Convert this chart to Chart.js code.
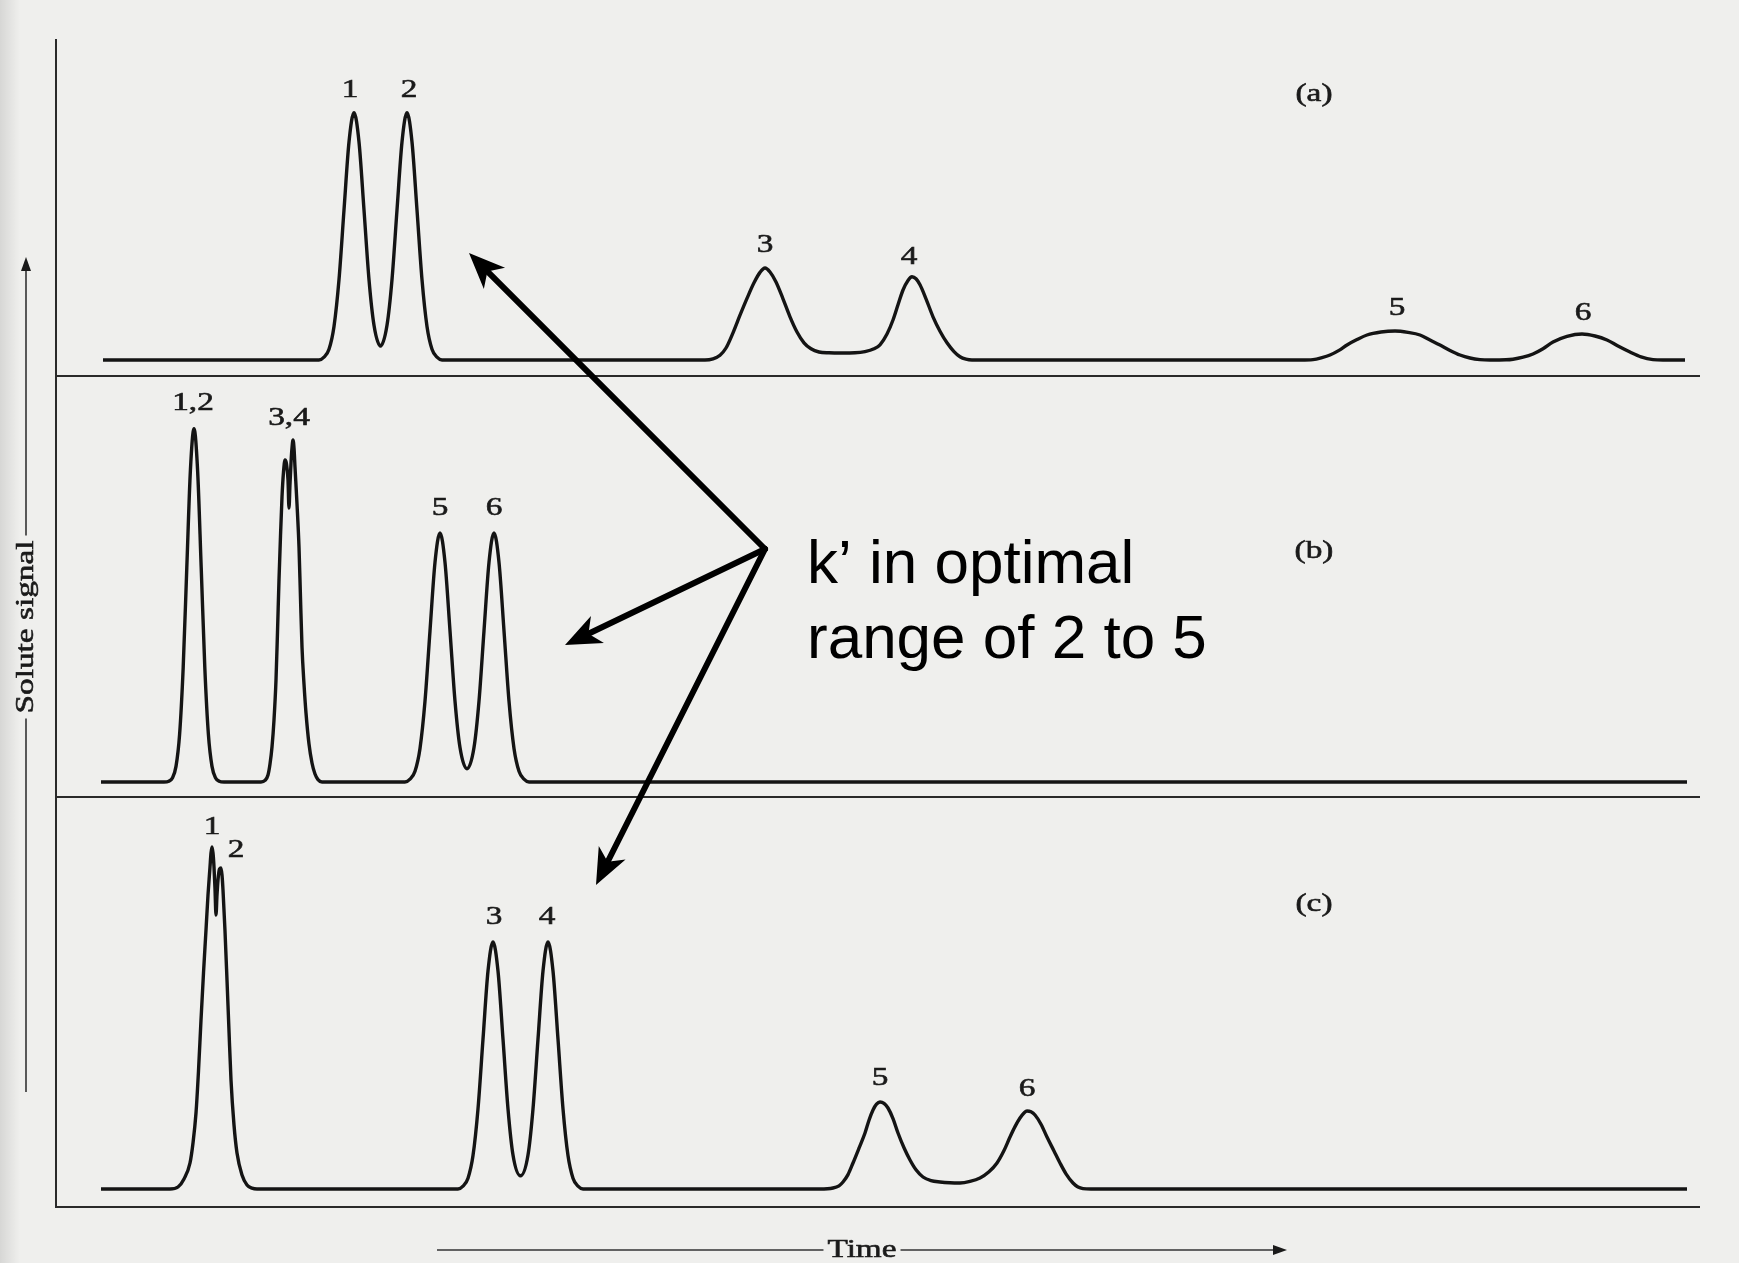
<!doctype html>
<html>

<head>
    <meta charset="utf-8">
    <title>Chromatograms - k' range</title>
    <script src="https://cdn.jsdelivr.net/npm/chart.js"></script>
    <style>
        html, body { margin: 0; padding: 0; background: #efefed; overflow: hidden; }
        canvas { display: block; }
    </style>
</head>

<body>
    <canvas id="chromatogram" width="1739" height="1263"></canvas>

    <script>
        // retention time (arbitrary units) and detector signal
        const timeA = [4.7,
            26.3, 26.8, 27.3, 27.8, 28.3, 28.8, 29.3, 29.8, 30.3, 30.8, 31.3, 31.8, 32.45, 33.1, 33.6, 34.1, 34.6, 35.1, 35.6, 36.1, 36.6, 37.1, 37.6, 38.1, 38.6,
            62.4, 64.9, 65.7, 66.4, 67.0, 67.7, 68.4, 69.1, 69.8, 70.4, 70.9, 71.4, 72.0, 72.7, 73.4, 74.1, 74.8, 75.5, 76.3, 77.3, 78.6, 79.9, 80.9,
            81.8, 82.4, 83.1, 83.7, 84.2, 84.7, 85.2, 85.6, 86.0, 86.4, 87.0, 87.7, 88.4, 89.1, 89.8, 90.4, 91.0, 91.6,
            124.5, 125.7, 126.6, 127.4, 128.3, 129.1, 130.1, 131.1, 132.5, 133.9, 135.2, 136.4, 137.4, 138.4, 139.4, 140.4, 141.4, 142.4, 143.4,
            145.0, 145.7, 146.7, 147.7, 148.7, 149.7, 151.1, 152.6, 153.9, 155.1, 156.2, 157.4, 158.5, 159.7, 160.7, 162.9]
        const signalA = [0,
            0, 0.7, 2.7, 8.4, 20.1, 37.5, 54.5, 61.8, 54.5, 37.5, 20.1, 8.7, 3.5, 8.7, 20.1, 37.5, 54.5, 61.8, 54.5, 37.5, 20.1, 8.4, 2.7, 0.7, 0,
            0, 0, 0.3, 1.2, 3.0, 6.8, 11.2, 15.4, 19.3, 21.9, 23, 22.0, 19.5, 15.3, 10.8, 7.0, 4.3, 2.8, 2.0, 1.8, 1.75, 1.8, 2.1,
            2.8, 3.8, 6.5, 10, 13.8, 17.5, 19.9, 20.8, 20.3, 18.8, 15.3, 10.8, 7.2, 4.3, 2.1, 0.8, 0.2, 0,
            0, 0.1, 0.6, 1.25, 2.4, 3.75, 5.1, 6.25, 7.0, 7.25, 6.9, 6.25, 5.0, 3.75, 2.4, 1.25, 0.5, 0.1, 0,
            0.05, 0.2, 0.7, 1.5, 2.8, 4.5, 5.9, 6.5, 6.0, 5.0, 3.5, 2.0, 0.8, 0.1, 0, 0]

        const timeB = [4.5,
            10.8, 11.28, 11.64, 12.0, 12.36, 12.72, 13.08, 13.44, 13.8, 14.16, 14.52, 14.88, 15.24, 15.6, 15.96, 16.32, 16.8,
            20.5, 20.9, 21.2, 21.4, 21.6, 21.8, 22.0, 22.15, 22.3, 22.45, 22.6, 22.75, 22.9, 23.05, 23.2, 23.3, 23.4, 23.5, 23.6, 23.7, 23.8, 23.9,
            24.1, 24.3, 24.45, 24.6, 24.8, 25.0, 25.3, 25.6, 25.9, 26.2, 26.6,
            34.9, 35.4, 35.9, 36.4, 36.9, 37.4, 37.9, 38.4, 38.9, 39.4, 39.9, 40.4, 41.1, 41.8, 42.3, 42.8, 43.3, 43.8, 44.3, 44.8, 45.3, 45.8, 46.3, 46.8, 47.3,
            163.1]
        const signalB = [0,
            0, 0.2, 1.0, 3.9, 11.9, 28.7, 53.6, 77.9, 88.3, 77.9, 53.6, 28.7, 11.9, 3.9, 1.0, 0.2, 0,
            0, 0.4, 1.75, 4.5, 8.75, 15.5, 25.5, 37.5, 50.5, 61.5, 71.25, 77.5, 80.5, 79.5, 75.5, 68.5, 74.5, 79.75, 83.5, 85.5, 83.5, 78.75,
            69.5, 58.75, 46, 33.75, 24.5, 17.25, 9.5, 4.75, 2.0, 0.6, 0,
            0, 0.7, 2.7, 8.4, 20.2, 37.8, 54.9, 62.25, 54.9, 37.8, 20.2, 8.6, 3.3, 8.6, 20.2, 37.8, 54.9, 62.25, 54.9, 37.8, 20.2, 8.4, 2.7, 0.7, 0,
            0]

        const timeC = [4.5,
            11.4, 12.2, 12.8, 13.4, 13.7, 14.0, 14.25, 14.5, 14.75, 15.0, 15.2, 15.4, 15.5, 15.6, 15.7, 15.8, 15.9, 16.0, 16.1, 16.2, 16.35, 16.5, 16.6, 16.7,
            16.9, 17.1, 17.3, 17.5, 17.8, 18.1, 18.6, 19.1, 19.6, 20.1,
            40.2, 40.7, 41.2, 41.7, 42.2, 42.7, 43.2, 43.7, 44.2, 44.7, 45.2, 45.7, 46.45, 47.2, 47.7, 48.2, 48.7, 49.2, 49.7, 50.2, 50.7, 51.2, 51.7, 52.2, 52.7,
            76.4, 77.7, 78.3, 78.7, 79.2, 79.7, 80.3, 80.9, 81.3, 81.7, 82.05, 82.4, 82.8, 83.2, 83.7, 84.2, 84.8, 85.4, 86.0, 86.7, 87.5, 88.4, 89.4, 90.4,
            91.4, 92.4, 93.3, 94.1, 94.8, 95.4, 95.9, 96.4, 96.8, 97.1, 97.5, 97.9, 98.5, 99.1, 99.8, 100.4, 101.0, 101.7, 102.2, 102.7, 103.5,
            163.1]
        const signalC = [0,
            0, 0.5, 2.5, 6.5, 11.5, 19, 29.5, 42.25, 54, 64.75, 73.5, 80.5, 84, 85.5, 84, 80.5, 75, 68.5, 73.5, 77.25, 80, 80.25, 78.5, 74.75,
            64.5, 52.25, 39.5, 27.25, 16, 9, 3.5, 1, 0.2, 0,
            0, 0.7, 2.7, 8.35, 20.05, 37.45, 54.5, 61.75, 54.5, 37.45, 20.05, 8.5, 3.3, 8.5, 20.05, 37.45, 54.5, 61.75, 54.5, 37.45, 20.05, 8.35, 2.7, 0.7, 0,
            0, 0.25, 0.8, 1.75, 3.6, 6.5, 10.2, 14, 17.2, 19.75, 21.2, 21.75, 21.4, 20.25, 17.6, 14, 10.3, 7.25, 4.8, 3.0, 2.1, 1.75, 1.55, 1.5,
            1.9, 2.75, 4.3, 6.5, 9.6, 13, 15.6, 17.75, 19.0, 19.5, 19.3, 18.5, 16.2, 13, 9.5, 6.5, 3.8, 1.5, 0.5, 0.1, 0,
            0]

        // peak numbers: text, time, and signal level where the number sits
        const peakTextA = ['1', '2', '3', '4', '5', '6']
        const peakTimeA = [29.4, 35.3, 70.9, 85.3, 134.1, 152.7]
        const peakLevelA = [67.5, 67.5, 28.75, 25.75, 13, 11.75]

        const peakTextB = ['1,2', '3,4', '5', '6']
        const peakTimeB = [13.7, 23.3, 38.4, 43.8]
        const peakLevelB = [94.75, 91, 68.5, 68.5]

        const peakTextC = ['1', '2', '3', '4', '5', '6']
        const peakTimeC = [15.6, 18.0, 43.8, 49.1, 82.4, 97.1]
        const peakLevelC = [90.5, 84.75, 68, 68, 27.75, 25]

        const panelNames = ['(a)', '(b)', '(c)']
        const panelNameTime = 125.8
        const panelNameLevel = [66.5, 57.75, 71.25]

        const noteLines = ['k’ in optimal', 'range of 2 to 5']
        const noteTime = 75.1
        const noteLevelB = [49.75, 31]

        // arrows start at one point in panel (b) and point at one chromatogram each
        const arrowFrom = { axis: 'yb', time: 70.9, level: 58.25 }
        const arrowTo = [
            { axis: 'ya', time: 41.3, level: 26.75 },
            { axis: 'yb', time: 50.9, level: 34.25 },
            { axis: 'yc', time: 54.0, level: 76 }
        ]

        const xTitle = 'Time'
        const yTitle = 'Solute signal'

        function points(times, signals) {
            return times.map((t, i) => ({ x: t, y: signals[i] }))
        }

        function printSerif(ctx, str, x, y, rotate) {
            ctx.save()
            ctx.translate(x, y)
            if (rotate) ctx.rotate(rotate)
            ctx.scale(1.28, 1)
            ctx.fillText(str, 0, 0)
            ctx.strokeText(str, 0, 0)
            ctx.restore()
        }

        function arrowHead(ctx, x0, y0, x1, y1, len, half, notch) {
            const ang = Math.atan2(y1 - y0, x1 - x0)
            const c = Math.cos(ang), s = Math.sin(ang)
            ctx.beginPath()
            ctx.moveTo(x0, y0)
            ctx.lineTo(x1 - c * notch, y1 - s * notch)
            ctx.stroke()
            ctx.beginPath()
            ctx.moveTo(x1, y1)
            ctx.lineTo(x1 - c * len - s * half, y1 - s * len + c * half)
            ctx.lineTo(x1 - c * notch, y1 - s * notch)
            ctx.lineTo(x1 - c * len + s * half, y1 - s * len - c * half)
            ctx.closePath()
            ctx.fill()
        }

        const figureDecor = {
            id: 'figureDecor',
            beforeDraw(chart) {
                const { ctx, width, height } = chart
                ctx.save()
                ctx.fillStyle = '#efefed'
                ctx.fillRect(0, 0, width, height)
                const edge = ctx.createLinearGradient(0, 0, 20, 0)
                edge.addColorStop(0, 'rgba(0,0,0,0.10)')
                edge.addColorStop(1, 'rgba(0,0,0,0)')
                ctx.fillStyle = edge
                ctx.fillRect(0, 0, 20, height)
                ctx.restore()
            },
            afterDatasetsDraw(chart) {
                const { ctx, chartArea: { left, right, top, bottom }, scales: { x, ya, yb, yc } } = chart
                const yAxes = { ya, yb, yc }
                ctx.save()

                // frame and panel separators
                ctx.strokeStyle = '#2a2a2a'
                ctx.lineWidth = 2
                ctx.beginPath()
                ctx.moveTo(left, top)
                ctx.lineTo(left, bottom)
                ctx.lineTo(right, bottom)
                ctx.moveTo(left, ya.bottom)
                ctx.lineTo(right, ya.bottom)
                ctx.moveTo(left, yb.bottom)
                ctx.lineTo(right, yb.bottom)
                ctx.stroke()

                // peak numbers and panel letters
                ctx.fillStyle = '#1a1a1a'
                ctx.strokeStyle = '#1a1a1a'
                ctx.lineWidth = 0.6
                ctx.font = '26px "Liberation Serif", "Times New Roman", serif'
                ctx.textAlign = 'center'
                ctx.textBaseline = 'middle'
                const groups = [[ya, peakTextA, peakTimeA, peakLevelA], [yb, peakTextB, peakTimeB, peakLevelB], [yc, peakTextC, peakTimeC, peakLevelC]]
                groups.forEach(([axis, texts, times, levels], p) => {
                    texts.forEach((t, i) => printSerif(ctx, t, x.getPixelForValue(times[i]), axis.getPixelForValue(levels[i])))
                    printSerif(ctx, panelNames[p], x.getPixelForValue(panelNameTime), axis.getPixelForValue(panelNameLevel[p]))
                })

                // axis titles with arrows
                const ty = bottom + 43
                const tx = left + 806
                const tw = ctx.measureText(xTitle).width * 1.28
                printSerif(ctx, xTitle, tx, ty)
                const sx = left - 30
                const sy = top + 588
                const sw = ctx.measureText(yTitle).width * 1.28
                printSerif(ctx, yTitle, sx, sy, -Math.PI / 2)

                ctx.strokeStyle = '#333'
                ctx.lineWidth = 1.6
                ctx.beginPath()
                ctx.moveTo(left + 381, ty)
                ctx.lineTo(tx - tw / 2 - 4, ty)
                ctx.stroke()
                arrowHead(ctx, tx + tw / 2 + 4, ty, left + 1231, ty, 14, 5, 14)
                ctx.beginPath()
                ctx.moveTo(sx, bottom - 115)
                ctx.lineTo(sx, sy + sw / 2 + 5)
                ctx.stroke()
                arrowHead(ctx, sx, sy - sw / 2 - 5, sx, top + 218, 14, 5, 14)

                // annotation arrows
                ctx.strokeStyle = '#000'
                ctx.fillStyle = '#000'
                ctx.lineWidth = 6
                ctx.lineCap = 'round'
                const fx = x.getPixelForValue(arrowFrom.time)
                const fy = yAxes[arrowFrom.axis].getPixelForValue(arrowFrom.level)
                arrowTo.forEach(a => {
                    arrowHead(ctx, fx, fy, x.getPixelForValue(a.time), yAxes[a.axis].getPixelForValue(a.level), 36, 15, 26)
                })

                // annotation text
                ctx.font = '62px "Liberation Sans", Arial, sans-serif'
                ctx.textAlign = 'left'
                ctx.textBaseline = 'alphabetic'
                noteLines.forEach((line, i) => {
                    ctx.fillText(line, x.getPixelForValue(noteTime), yb.getPixelForValue(noteLevelB[i]))
                })
                ctx.restore()
            }
        }

        const traceStyle = {
            borderColor: '#141414',
            borderWidth: 3.4,
            pointRadius: 0,
            cubicInterpolationMode: 'monotone',
            fill: false
        }

        const chromatogram = new Chart(document.getElementById('chromatogram').getContext('2d'), {
            type: 'line',
            data: {
                datasets: [
                    { label: '(a)', data: points(timeA, signalA), yAxisID: 'ya', ...traceStyle },
                    { label: '(b)', data: points(timeB, signalB), yAxisID: 'yb', ...traceStyle },
                    { label: '(c)', data: points(timeC, signalC), yAxisID: 'yc', ...traceStyle }
                ]
            },
            options: {
                responsive: false,
                animation: false,
                devicePixelRatio: 1,
                events: [],
                layout: { padding: { left: 56, top: 39, right: 39, bottom: 56 } },
                plugins: { legend: { display: false }, tooltip: { enabled: false } },
                scales: {
                    x: { type: 'linear', min: 0, max: 164.4, display: false },
                    ya: { type: 'linear', position: 'left', stack: 'panels', stackWeight: 337, weight: 3, min: -4, max: 80.25, display: false },
                    yb: { type: 'linear', position: 'left', stack: 'panels', stackWeight: 421, weight: 2, min: -3.75, max: 101.5, display: false },
                    yc: { type: 'linear', position: 'left', stack: 'panels', stackWeight: 410, weight: 1, min: -4.5, max: 98, display: false }
                }
            },
            plugins: [figureDecor]
        });
    </script>
</body>

</html>
